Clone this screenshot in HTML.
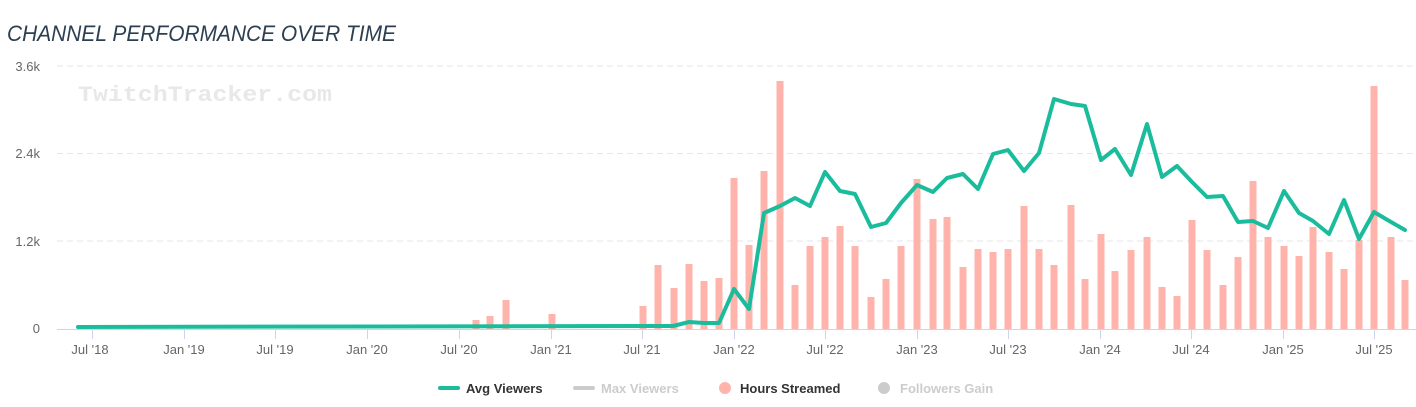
<!DOCTYPE html>
<html><head><meta charset="utf-8"><style>
body{margin:0;background:#fff;width:1416px;height:407px;overflow:hidden}
svg{display:block;font-family:"Liberation Sans",sans-serif}
</style></head><body>
<svg width="1416" height="407" viewBox="0 0 1416 407">
<text x="7" y="41" font-size="22" font-style="italic" fill="#2c3e50" textLength="389" lengthAdjust="spacingAndGlyphs">CHANNEL PERFORMANCE OVER TIME</text>
<g stroke="#e6e6e6" stroke-dasharray="6,4" stroke-width="1">
<line x1="57" y1="66" x2="1416" y2="66"/><line x1="57" y1="153.5" x2="1416" y2="153.5"/><line x1="57" y1="241" x2="1416" y2="241"/>
</g>
<text x="78" y="101" font-family="Liberation Mono,monospace" font-size="22" font-weight="bold" fill="#e8e8e8" textLength="254" lengthAdjust="spacingAndGlyphs">TwitchTracker.com</text>
<g font-size="13" fill="#666" text-anchor="end">
<text x="40" y="71">3.6k</text><text x="40" y="158">2.4k</text><text x="40" y="246">1.2k</text><text x="40" y="333">0</text>
</g>
<g fill="#ffb3ab">
<rect x="472.5" y="320" width="7" height="9"/><rect x="486.5" y="316" width="7" height="13"/><rect x="502.5" y="300" width="7" height="29"/><rect x="548.5" y="314" width="7" height="15"/>
<rect x="639.5" y="306" width="7" height="23"/><rect x="654.5" y="265" width="7" height="64"/><rect x="670.5" y="288" width="7" height="41"/><rect x="685.5" y="264" width="7" height="65"/><rect x="700.5" y="281" width="7" height="48"/><rect x="715.5" y="278" width="7" height="51"/>
<rect x="730.5" y="178" width="7" height="151"/><rect x="745.5" y="245" width="7" height="84"/><rect x="760.5" y="171" width="7" height="158"/><rect x="776.5" y="81" width="7" height="248"/><rect x="791.5" y="285" width="7" height="44"/><rect x="806.5" y="246" width="7" height="83"/><rect x="821.5" y="237" width="7" height="92"/><rect x="836.5" y="226" width="7" height="103"/><rect x="851.5" y="246" width="7" height="83"/><rect x="867.5" y="297" width="7" height="32"/><rect x="882.5" y="279" width="7" height="50"/><rect x="897.5" y="246" width="7" height="83"/>
<rect x="913.5" y="179" width="7" height="150"/><rect x="929.5" y="219" width="7" height="110"/><rect x="943.5" y="217" width="7" height="112"/><rect x="959.5" y="267" width="7" height="62"/><rect x="974.5" y="249" width="7" height="80"/><rect x="989.5" y="252" width="7" height="77"/><rect x="1004.5" y="249" width="7" height="80"/><rect x="1020.5" y="206" width="7" height="123"/><rect x="1035.5" y="249" width="7" height="80"/><rect x="1050.5" y="265" width="7" height="64"/><rect x="1067.5" y="205" width="7" height="124"/><rect x="1081.5" y="279" width="7" height="50"/>
<rect x="1097.5" y="234" width="7" height="95"/><rect x="1111.5" y="271" width="7" height="58"/><rect x="1127.5" y="250" width="7" height="79"/><rect x="1143.5" y="237" width="7" height="92"/><rect x="1158.5" y="287" width="7" height="42"/><rect x="1173.5" y="296" width="7" height="33"/><rect x="1188.5" y="220" width="7" height="109"/><rect x="1203.5" y="250" width="7" height="79"/><rect x="1219.5" y="285" width="7" height="44"/><rect x="1234.5" y="257" width="7" height="72"/><rect x="1249.5" y="181" width="7" height="148"/><rect x="1264.5" y="237" width="7" height="92"/>
<rect x="1280.5" y="246" width="7" height="83"/><rect x="1295.5" y="256" width="7" height="73"/><rect x="1309.5" y="227" width="7" height="102"/><rect x="1325.5" y="252" width="7" height="77"/><rect x="1340.5" y="269" width="7" height="60"/><rect x="1355.5" y="240" width="7" height="89"/><rect x="1370.5" y="86" width="7" height="243"/><rect x="1387.5" y="237" width="7" height="92"/><rect x="1401.5" y="280" width="7" height="49"/>
</g>
<line x1="57" y1="329.5" x2="1416" y2="329.5" stroke="#ccd6eb"/>
<g stroke="#ccd6eb">
<line x1="92.5" y1="329" x2="92.5" y2="339"/><line x1="184.5" y1="329" x2="184.5" y2="339"/><line x1="275.5" y1="329" x2="275.5" y2="339"/><line x1="367.5" y1="329" x2="367.5" y2="339"/><line x1="459.5" y1="329" x2="459.5" y2="339"/><line x1="551.5" y1="329" x2="551.5" y2="339"/><line x1="642.5" y1="329" x2="642.5" y2="339"/><line x1="734.5" y1="329" x2="734.5" y2="339"/><line x1="825.5" y1="329" x2="825.5" y2="339"/><line x1="917.5" y1="329" x2="917.5" y2="339"/><line x1="1008.5" y1="329" x2="1008.5" y2="339"/><line x1="1100.5" y1="329" x2="1100.5" y2="339"/><line x1="1191.5" y1="329" x2="1191.5" y2="339"/><line x1="1283.5" y1="329" x2="1283.5" y2="339"/><line x1="1374.5" y1="329" x2="1374.5" y2="339"/>
</g>
<g font-size="13" fill="#666" text-anchor="middle">
<text x="90" y="354">Jul '18</text><text x="184" y="354">Jan '19</text><text x="275" y="354">Jul '19</text><text x="367" y="354">Jan '20</text><text x="459" y="354">Jul '20</text><text x="551" y="354">Jan '21</text><text x="642" y="354">Jul '21</text><text x="734" y="354">Jan '22</text><text x="825" y="354">Jul '22</text><text x="917" y="354">Jan '23</text><text x="1008" y="354">Jul '23</text><text x="1100" y="354">Jan '24</text><text x="1191" y="354">Jul '24</text><text x="1283" y="354">Jan '25</text><text x="1374" y="354">Jul '25</text>
</g>
<polyline fill="none" stroke="#1abc9c" stroke-width="4" stroke-linejoin="round" stroke-linecap="round" points="78,327 640,326 673,326 689,322 704,323 719,323 734,289 749,309 764,213 780,206 795,198 810,206 825,172 840,191 855,194 871,227 886,223 901,203 917,185 933,192 947,178 963,174 978,189 993,154 1008,150 1024,171 1039,153 1054,99 1071,104 1085,106 1101,160 1115,149 1131,175 1147,124 1162,177 1177,166 1192,182 1207,197 1223,196 1238,222 1253,221 1268,228 1284,191 1299,213 1313,221 1329,234 1344,200 1359,239 1374,212 1391,222 1405,230"/>
<g font-size="13" font-weight="bold">
<line x1="440" y1="388" x2="458" y2="388" stroke="#1abc9c" stroke-width="4" stroke-linecap="round"/>
<text x="466" y="393" fill="#333">Avg Viewers</text>
<line x1="575" y1="388" x2="593" y2="388" stroke="#ccc" stroke-width="4" stroke-linecap="round"/>
<text x="601" y="393" fill="#ccc">Max Viewers</text>
<circle cx="725" cy="388" r="6" fill="#ffb3ab"/>
<text x="740" y="393" fill="#333">Hours Streamed</text>
<circle cx="884" cy="388" r="6" fill="#ccc"/>
<text x="900" y="393" fill="#ccc">Followers Gain</text>
</g>
</svg>
</body></html>
